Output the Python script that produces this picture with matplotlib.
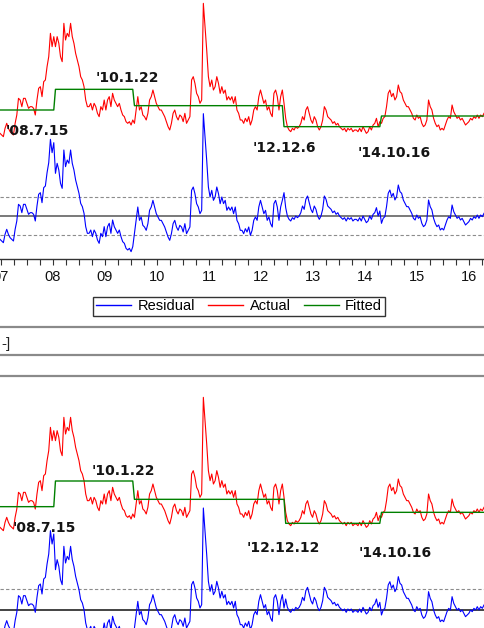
import numpy as np
import matplotlib
matplotlib.use("Agg")
import matplotlib.pyplot as plt
from matplotlib.lines import Line2D

W, H, DPI = 484, 628, 100

# ---------------- data ----------------
date_start = 2007.48
date_end = 2016.79

actual = [
    # 2007.48 - 2009.8
    0.50, 0.45, 0.40, 0.65, 0.80, 0.65, 0.55, 0.50, 0.45, 0.80, 1.05, 1.55,
    1.50, 1.30, 1.55, 1.55, 1.40, 1.25, 1.30, 1.30, 1.25, 1.05, 1.50, 1.85,
    1.90, 1.60, 2.05, 2.10, 2.50, 2.80, 3.50, 3.10, 3.40, 3.10, 3.40, 3.20,
    2.80, 2.65, 3.80, 3.30, 3.50, 3.40, 3.80, 3.40, 3.20, 2.90, 2.70, 2.50,
    2.20, 2.10, 1.90, 1.50, 1.30, 1.30, 1.40, 1.20, 1.40, 1.30, 1.10, 1.00,
    1.30, 1.20, 1.50, 1.20, 1.50, 1.60, 1.30, 1.70, 1.50, 1.40, 1.30, 1.40,
    # 2009.8 - 2012.1
    1.20, 1.05, 1.00, 0.85, 0.80, 0.85, 0.75, 0.90, 0.80, 1.20, 1.60, 1.20,
    1.30, 1.05, 1.00, 0.90, 1.10, 1.50, 1.60, 1.80, 1.60, 1.40, 1.30, 1.20,
    1.20, 1.10, 1.00, 0.85, 0.70, 0.60, 0.80, 1.10, 1.20, 1.00, 0.90, 1.05,
    1.00, 0.85, 1.10, 0.80, 0.90, 1.00, 2.10, 2.20, 2.00, 1.70, 1.60, 1.40,
    1.50, 4.40, 3.70, 3.00, 2.20, 1.90, 2.10, 1.80, 1.90, 2.20, 2.00, 1.70,
    1.90, 1.70, 1.80, 1.50, 1.60, 1.50, 1.60, 1.40, 1.60, 1.20, 1.10, 0.90,
    # 2012.1 - 2014.4
    0.90, 0.80, 0.95, 0.85, 1.00, 0.75, 0.90, 1.20, 1.30, 1.20, 1.60, 1.80,
    1.60, 1.40, 1.50, 1.20, 1.30, 1.10, 1.00, 1.70, 1.80, 1.60, 1.20, 1.60,
    1.80, 1.40, 0.95, 0.70, 0.60, 0.55, 0.65, 0.60, 0.70, 0.65, 0.70, 0.80,
    1.00, 0.90, 1.20, 1.30, 1.10, 0.90, 0.80, 1.00, 0.90, 0.70, 0.60, 0.70,
    0.90, 1.30, 1.20, 1.00, 0.95, 0.90, 0.80, 0.85, 0.75, 0.80, 0.70, 0.65,
    0.60, 0.65, 0.55, 0.65, 0.60, 0.65, 0.55, 0.60, 0.60, 0.55, 0.65, 0.55,
    # 2014.4 - 2016.79
    0.70, 0.60, 0.50, 0.55, 0.70, 0.60, 0.75, 0.80, 0.95, 0.70, 0.85, 0.80,
    0.95, 1.00, 1.30, 1.70, 1.80, 1.60, 1.70, 1.50, 1.60, 1.95, 1.75, 1.70,
    1.50, 1.40, 1.30, 1.30, 1.20, 1.10, 0.95, 0.90, 1.05, 0.95, 1.00, 0.80,
    0.70, 0.75, 0.90, 1.50, 1.30, 1.20, 0.95, 0.80, 0.70, 0.75, 0.60, 0.65,
    0.60, 0.75, 0.90, 1.00, 0.95, 1.35, 1.15, 1.05, 0.95, 1.00, 0.90, 0.95,
    0.85, 0.75, 0.80, 0.85, 0.95, 0.90, 1.00, 0.95, 1.05, 0.95, 1.05, 1.00,
    1.10,
]

breaks_top = [2008.54, 2010.06, 2012.93, 2014.79]
levels_top = [1.20, 1.82, 1.33, 0.70, 1.02]
band_top = 0.56

breaks_bot = [2008.54, 2010.06, 2012.95, 2014.79]
levels_bot = [1.12, 1.89, 1.34, 0.62, 0.95]
band_bot = 0.63

year_labels = ["07", "08", "09", "10", "11", "12", "13", "14", "15", "16"]
year_centers = [2007.5, 2008.5, 2009.5, 2010.5, 2011.5,
                2012.5, 2013.5, 2014.5, 2015.5, 2016.5]

notes_top = ["'08.7.15", "'10.1.22", "'12.12.6", "'14.10.16"]
notes_top_x = [2007.58, 2009.31, 2012.33, 2014.35]
notes_top_y = [0.45, 2.04, -0.06, -0.21]

notes_bot = ["'08.7.15", "'10.1.22", "'12.12.12", "'14.10.16"]
notes_bot_x = [2007.73, 2009.25, 2012.23, 2014.38]
notes_bot_y = [0.36, 2.07, -0.24, -0.39]

legend_labels = ["Residual", "Actual", "Fitted"]
legend_colors = ["#0000ff", "#ff0000", "#008000"]

# ---------------- drawing ----------------
fig = plt.figure(figsize=(W / DPI, H / DPI), dpi=DPI)
fig.patch.set_facecolor("white")

dates = np.linspace(date_start, date_end, len(actual))
act = np.array(actual)
quarters = np.arange(2007.5, 2016.9, 0.25)


def panel(top_px, bot_px, breaks, levels, band, zero_color, notes, nx, ny, show_axis):
    ax = fig.add_axes([0, 1 - bot_px / H, 1, (bot_px - top_px) / H])
    fitted = np.array(levels)[np.searchsorted(breaks, dates, side="right")]
    resid = act - fitted
    ax.axhline(0, color=zero_color, lw=1.1, zorder=1)
    for b in (band, -band):
        ax.axhline(b, color="#8c8c8c", lw=0.8, ls=(0, (3, 2)), zorder=1)
    ax.plot(dates, resid, color=legend_colors[0], lw=0.8, zorder=2)
    ax.set_xlim(date_start, date_end)
    ax.set_ylim(-1.29, 6.48)
    ax.set_yticks([])
    for s in ("left", "right", "top"):
        ax.spines[s].set_visible(False)

    ax2 = ax.twinx()
    ax2.plot(dates, act, color=legend_colors[1], lw=0.8, zorder=3)
    ax2.plot(dates, fitted, color=legend_colors[2], lw=1.0, zorder=4)
    ax2.set_ylim(-3.27, 4.5)
    ax2.set_yticks([])
    for s in ("left", "right", "top", "bottom"):
        ax2.spines[s].set_visible(False)
    for t, x, y in zip(notes, nx, ny):
        ax2.text(x, y, t, ha="left", va="baseline", fontsize=10,
                 fontweight="bold", family="DejaVu Sans", color="#141414")

    if show_axis:
        ax.spines["bottom"].set_color("#333333")
        ax.spines["bottom"].set_linewidth(1.0)
        ax.xaxis.remove_overlapping_locs = False
        ax.set_xticks(year_centers, year_labels)
        ax.set_xticks(quarters, minor=True)
        ax.tick_params(axis="x", which="minor", direction="out", length=4,
                       width=0.8, color="#333333")
        ax.tick_params(axis="x", which="major", length=0, pad=8,
                       labelsize=10.5, labelcolor="#111111")
        for lab in ax.get_xticklabels():
            lab.set_family("Liberation Sans")
    else:
        ax.spines["bottom"].set_visible(False)
        ax.set_xticks([])
    return ax


panel(0, 259, breaks_top, levels_top, band_top, "#555555",
      notes_top, notes_top_x, notes_top_y, True)
panel(394, 653, breaks_bot, levels_bot, band_bot, "#111111",
      notes_bot, notes_bot_x, notes_bot_y, False)

# legend
handles = [Line2D([], [], color=c, lw=1.0) for c in legend_colors]
leg = fig.legend(handles, legend_labels, ncol=3, loc="center",
                 bbox_to_anchor=(239 / W, 1 - 306.5 / H),
                 frameon=True, fancybox=False, framealpha=1,
                 edgecolor="#333333", borderpad=0.2, handlelength=2.4,
                 handletextpad=0.45, columnspacing=0.9,
                 prop={"family": "Liberation Sans", "size": 10.5})
leg.get_frame().set_linewidth(1.0)

# separator lines / box between the panels
for ypx in (327, 355, 376):
    fig.add_artist(Line2D([0, 1], [1 - ypx / H, 1 - ypx / H],
                          transform=fig.transFigure, color="#8a8a8a", lw=1.6))
fig.text(1 / W, 1 - 344 / H, "-]", ha="left", va="center", fontsize=11,
         family="Liberation Sans", color="#222222")

fig.savefig("out.png", dpi=DPI, facecolor="white")
